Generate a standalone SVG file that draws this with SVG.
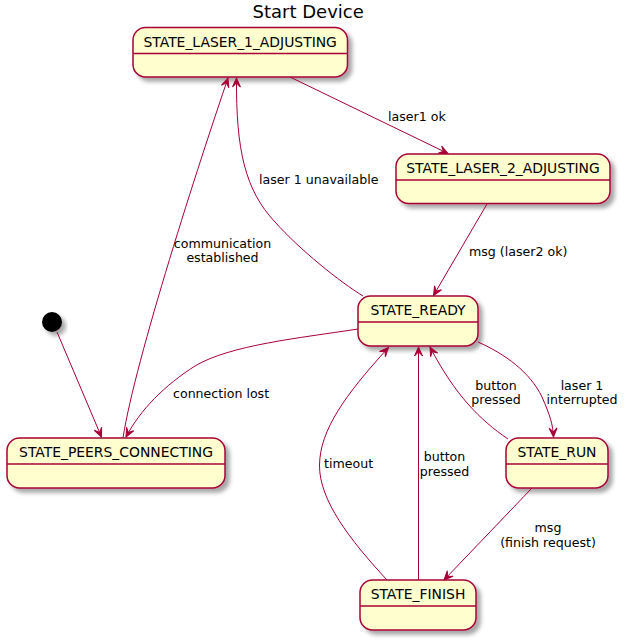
<svg xmlns="http://www.w3.org/2000/svg" width="625" height="643" viewBox="0 0 625 643">
<style>
.node rect{fill:#FEFECE;stroke:#A80036;stroke-width:1.5;}
.node line{stroke:#A80036;stroke-width:1.5;}
.name{font-family:"DejaVu Sans",sans-serif;font-size:13.9px;fill:#000;text-anchor:middle;}
.lbl{font-family:"DejaVu Sans",sans-serif;font-size:12.6px;fill:#000;}
.mid{text-anchor:middle;}
.edge{fill:none;stroke:#A80036;stroke-width:1;marker-end:url(#arr);}
.title{font-family:"DejaVu Sans",sans-serif;font-size:18px;fill:#000;}
</style>
<defs>
<filter id="sh" x="-20%" y="-20%" width="150%" height="160%">
<feDropShadow dx="4" dy="4" stdDeviation="2" flood-color="#000" flood-opacity="0.35"/>
</filter>
<marker id="arr" markerUnits="userSpaceOnUse" viewBox="-10 -5 11 10" markerWidth="11" markerHeight="10" refX="0" refY="0" orient="auto">
<path d="M0,0 L-9,-4 L-5,0 L-9,4 Z" fill="#A80036" stroke="#A80036" stroke-width="1"/>
</marker>
</defs>
<rect width="625" height="643" fill="#fff"/>
<text class="title" x="252.5" y="17.5">Start Device</text>

<g id="start"><circle cx="52" cy="322" r="10" fill="#000" filter="url(#sh)"/></g>

<g id="STATE_LASER_1_ADJUSTING" class="node">
<rect x="133" y="27.5" width="214.5" height="49.5" rx="12.5" filter="url(#sh)"/>
<line x1="133" y1="53.5" x2="347.5" y2="53.5"/>
<text class="name" x="240.2" y="46.5">STATE_LASER_1_ADJUSTING</text>
</g>
<g id="STATE_LASER_2_ADJUSTING" class="node">
<rect x="396" y="154" width="214" height="49.5" rx="12.5" filter="url(#sh)"/>
<line x1="396" y1="180" x2="610" y2="180"/>
<text class="name" x="503" y="173">STATE_LASER_2_ADJUSTING</text>
</g>
<g id="STATE_READY" class="node">
<rect x="358" y="296" width="120" height="50" rx="12.5" filter="url(#sh)"/>
<line x1="358" y1="322" x2="478" y2="322"/>
<text class="name" x="418" y="315">STATE_READY</text>
</g>
<g id="STATE_PEERS_CONNECTING" class="node">
<rect x="7" y="438" width="218" height="50" rx="12.5" filter="url(#sh)"/>
<line x1="7" y1="464" x2="225" y2="464"/>
<text class="name" x="116" y="457">STATE_PEERS_CONNECTING</text>
</g>
<g id="STATE_RUN" class="node">
<rect x="506" y="438" width="102" height="50" rx="12.5" filter="url(#sh)"/>
<line x1="506" y1="464" x2="608" y2="464"/>
<text class="name" x="557" y="457">STATE_RUN</text>
</g>
<g id="STATE_FINISH" class="node">
<rect x="360" y="580" width="116" height="50" rx="12.5" filter="url(#sh)"/>
<line x1="360" y1="606" x2="476" y2="606"/>
<text class="name" x="418" y="599">STATE_FINISH</text>
</g>

<g id="connectors">
<path class="edge" d="M57,332 L101.5,437"/>
<path class="edge" d="M123,438 C135,360 200,160 228,78"/>
<path class="edge" d="M363,296 C340,282 300,250 275,222 C245,190 236,150 236.5,78"/>
<path class="edge" d="M290,77 L448,153.5"/>
<path class="edge" d="M487,204 L433.5,295.5"/>
<path class="edge" d="M358,329 C300,338 230,345 195,366 C165,385 140,410 126,437"/>
<path class="edge" d="M478,342 C505,354 530,372 542,397 C550,415 553,425 553.5,437"/>
<path class="edge" d="M508,439 C480,420 455,395 430,347"/>
<path class="edge" d="M387,580 C350,540 319,500 319.5,465 C320,430 345,395 388.5,347.5"/>
<path class="edge" d="M418.5,580 L418.5,347"/>
<path class="edge" d="M532,488 L444,580"/>
</g>

<g id="labels">
<text class="lbl mid" x="222.5" y="247.5">communication</text>
<text class="lbl mid" x="222.5" y="261.5">established</text>
<text class="lbl" x="259" y="184">laser 1 unavailable</text>
<text class="lbl" x="388" y="121">laser1 ok</text>
<text class="lbl" x="469" y="256">msg (laser2 ok)</text>
<text class="lbl" x="173" y="398">connection lost</text>
<text class="lbl mid" x="496" y="390">button</text>
<text class="lbl mid" x="496" y="404">pressed</text>
<text class="lbl mid" x="582" y="390">laser 1</text>
<text class="lbl mid" x="582" y="404">interrupted</text>
<text class="lbl" x="324" y="468">timeout</text>
<text class="lbl mid" x="444.5" y="461">button</text>
<text class="lbl mid" x="444.5" y="475.5">pressed</text>
<text class="lbl mid" x="548" y="532">msg</text>
<text class="lbl mid" x="548" y="546.5">(finish request)</text>
</g>
</svg>
